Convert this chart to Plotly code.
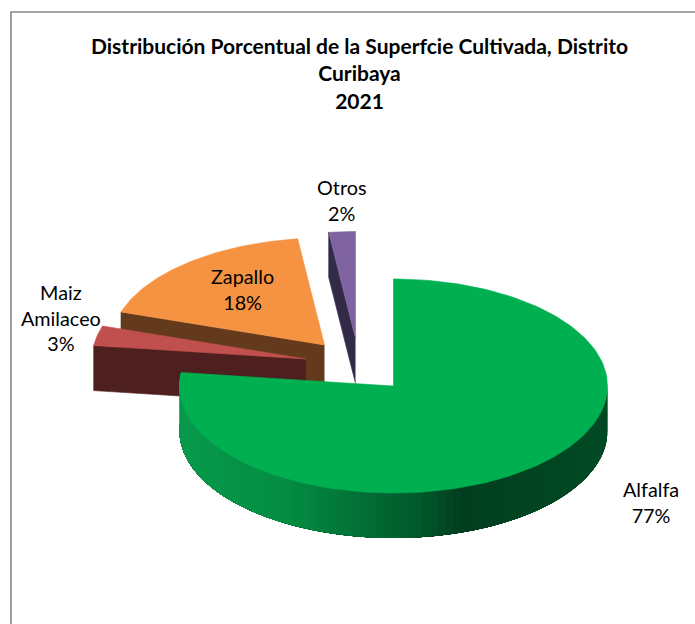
import numpy as np
import plotly.graph_objects as go

# Data
categories = ["Alfalfa", "Maiz<br>Amilaceo", "Zapallo", "Otros"]
values = [77, 3, 18, 2]
title_lines = ["Distribución Porcentual de la Superfcie Cultivada, Distrito", "Curibaya", "2021"]

# Palette
top_colors = ["#00b050", "#c0504d", "#f69343", "#8064a2"]
side_colors = [None, "#4d1f1f", "#633a1b", "#332a47"]
rim_stops_x = [180, 290, 360, 420, 462, 607]
rim_stops_rgb = [(8, 154, 76), (3, 140, 66), (2, 112, 54), (1, 90, 44), (1, 62, 31), (1, 74, 36)]

# Projection of the pie, in page pixels
W, H = 695, 624
CX, CY, RX, RY, DEPTH = 393.5, 386.0, 214.0, 107.0, 45.0
explode_dx = [0, -87.5, -69, -38]
explode_dy = [0, -27, -41, -47.5]
label_x = [650.5, 61, 242, 341]
label_y = [502, 317, 288.5, 200]

fig = go.Figure()


def add_poly(xs, ys, color, width=0.6):
    fig.add_trace(go.Scatter(x=xs, y=ys, mode="lines", fill="toself", fillcolor=color,
                             line=dict(color=color, width=width), hoverinfo="skip", showlegend=False))


def arc(cx, cy, a0, a1, n):
    t = np.radians(np.linspace(a0, a1, n))
    return cx + RX * np.sin(t), cy - RY * np.cos(t)


total = sum(values)
start = np.cumsum([0] + values[:-1]) / total * 360
end = np.cumsum(values) / total * 360
draw_order = [2, 3, 1, 0]

for i in draw_order:
    cx, cy = CX + explode_dx[i], CY + explode_dy[i]
    a0, a1 = start[i], end[i]
    if i == 0:
        # curved outer wall with a horizontal shading; every band runs on under the
        # next one so that no seams show between them
        edges = np.linspace(90, a1, 90)
        for e0 in edges[:-1]:
            ax, ay = arc(cx, cy, e0, a1, 120)
            seg_x, _ = arc(cx, cy, e0, e0 + 1, 2)
            rgb = [np.interp(float(seg_x.mean()), rim_stops_x, [c[k] for c in rim_stops_rgb]) for k in range(3)]
            color = "rgb(%d,%d,%d)" % tuple(int(round(v)) for v in rgb)
            add_poly(list(ax) + list(ax[::-1]), list(ay) + list(ay[::-1] + DEPTH), color, width=0)
    else:
        # flat cut face along the leading edge of the wedge
        ex, ey = arc(cx, cy, a0, a0, 1)
        add_poly([cx, ex[0], ex[0], cx], [cy, ey[0], ey[0] + DEPTH, cy + DEPTH], side_colors[i])
    ax, ay = arc(cx, cy, a0, a1, 200 if i == 0 else 60)
    add_poly([cx] + list(ax) + [cx], [cy] + list(ay) + [cy], top_colors[i])

annotations = []
for c, v, x, y in zip(categories, values, label_x, label_y):
    annotations.append(dict(
        x=x, y=y, xref="x", yref="y", showarrow=False, xanchor="center", yanchor="middle",
        align="center", text=c + "<br>%d%%" % v,
        font=dict(family="Lato", size=19.8, color="#000000"),
    ))

fig.update_layout(
    width=W, height=H,
    margin=dict(l=0, r=0, t=0, b=0),
    paper_bgcolor="#ffffff", plot_bgcolor="#ffffff",
    title=dict(text="<b>" + "<br>".join(title_lines) + "</b>", x=359.5 / W, xanchor="center", xref="paper",
               y=1 - 54 / H, yanchor="top", yref="paper",
               font=dict(family="Lato", size=21, color="#000000")),
    xaxis=dict(range=[0, W], visible=False, fixedrange=True),
    yaxis=dict(range=[H, 0], visible=False, fixedrange=True),
    annotations=annotations,
    shapes=[dict(type="rect", xref="x", yref="y", x0=11, y0=12, x1=W + 20, y1=H + 20,
                 line=dict(color="#868686", width=1.6), layer="below")],
    showlegend=False,
)

fig.write_html("out.html", config={"displayModeBar": False},
               post_script="document.body.style.margin='0';document.body.style.overflow='hidden';")
